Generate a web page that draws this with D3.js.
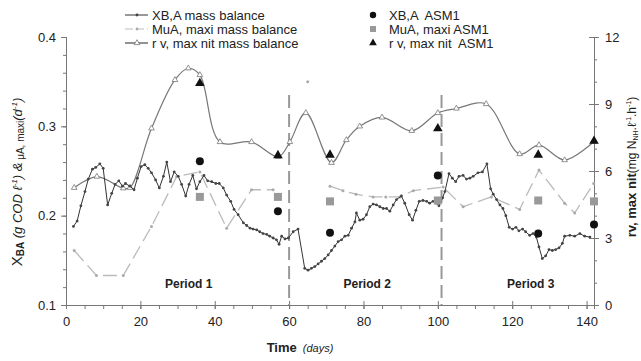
<!DOCTYPE html>
<html>
<head>
<meta charset="utf-8">
<script src="https://cdn.jsdelivr.net/npm/d3@7/dist/d3.min.js"></script>
<style>
  body { margin: 0; background: #fff; }
  text { font-family: "Liberation Sans", Arial, sans-serif; }
</style>
</head>
<body>
<div id="chart"></div>
<script>
// XB,A mass balance (g COD/l), left axis
var xbaDays = [2.0, 3.0, 4.0, 5.1, 6.0, 7.1, 8.0, 9.1, 10.0, 11.2, 12.3, 13.2, 14.2, 15.2, 16.0, 17.2, 18.3, 19.2, 20.2, 21.2,
    22.1, 23.0, 24.1, 25.1, 26.2, 27.1, 28.1, 29.1, 30.2, 31.1, 32.2, 33.1, 34.1, 35.1, 36.0, 37.1, 38.1, 39.2, 40.3, 41.2,
    42.3, 43.2, 44.3, 45.2, 46.3, 47.7, 48.6, 49.5, 50.3, 51.3, 52.1, 53.0, 54.0, 54.8, 55.7, 56.6, 57.3, 58.0, 58.9, 59.8,
    61.1, 62.4, 64.2, 65.1, 66.0, 66.9, 67.8, 68.7, 69.6, 70.5, 71.4, 72.3, 73.2, 74.1, 75.0, 75.9, 76.8, 77.7, 78.1, 79.0,
    79.9, 80.8, 81.7, 82.6, 83.5, 84.4, 85.3, 86.2, 87.1, 88.0, 88.9, 90.2, 91.1, 92.3, 93.2, 94.1, 95.0, 96.0, 97.0, 97.8,
    98.7, 99.6, 100.3, 101.3, 101.9, 103.0, 103.9, 104.8, 105.7, 106.8, 107.7, 108.6, 109.5, 110.8, 112.0, 113.2, 114.2, 114.9, 115.8, 116.7,
    117.5, 118.3, 119.2, 120.1, 121.0, 121.8, 122.8, 123.6, 124.7, 125.6, 126.5, 127.2, 128.1, 129.0, 129.9, 130.8, 131.7, 132.6, 133.5, 134.1,
    135.5, 136.8, 138.2, 139.5, 140.9];
var xbaValues = [0.188, 0.194, 0.211, 0.227, 0.241, 0.252, 0.254, 0.258, 0.253, 0.212, 0.225, 0.235, 0.239, 0.233, 0.236, 0.233, 0.229, 0.242, 0.255, 0.257,
    0.253, 0.248, 0.240, 0.231, 0.244, 0.260, 0.238, 0.249, 0.244, 0.235, 0.222, 0.235, 0.245, 0.230, 0.238, 0.245, 0.239, 0.238, 0.236, 0.236,
    0.231, 0.223, 0.216, 0.207, 0.201, 0.192, 0.189, 0.186, 0.185, 0.184, 0.182, 0.180, 0.179, 0.177, 0.175, 0.173, 0.168, 0.177, 0.174, 0.175,
    0.182, 0.185, 0.141, 0.139, 0.141, 0.143, 0.146, 0.149, 0.152, 0.156, 0.161, 0.166, 0.171, 0.173, 0.177, 0.178, 0.186, 0.193, 0.203, 0.195,
    0.196, 0.201, 0.210, 0.213, 0.212, 0.210, 0.208, 0.208, 0.205, 0.212, 0.218, 0.222, 0.214, 0.201, 0.195, 0.206, 0.216, 0.217, 0.216, 0.214,
    0.216, 0.214, 0.211, 0.220, 0.227, 0.247, 0.242, 0.238, 0.244, 0.245, 0.241, 0.242, 0.244, 0.248, 0.249, 0.258, 0.230, 0.224, 0.218, 0.212,
    0.208, 0.200, 0.187, 0.185, 0.187, 0.183, 0.185, 0.182, 0.178, 0.180, 0.176, 0.165, 0.152, 0.155, 0.162, 0.161, 0.162, 0.164, 0.169, 0.177,
    0.178, 0.177, 0.180, 0.177, 0.176];

// MuA, maxi mass balance (1/d), left axis; null = gap in the line
var muDays = [2.2, 8.2, 15.4, 23.0, 29.8, 36.0, 43.2, 49.9, 55.7, 60.0, 65.0, 68.0, 71.0, 74.5, 78.0, 82.6, 86.0, 89.8, 93.4, 101.4,
    106.8, 114.4, 122.0, 127.2, 134.1, 136.8, 141.9];
var muValues = [0.161, 0.133, 0.133, 0.188, 0.244, 0.249, 0.186, 0.229, 0.229, null, 0.350, null, 0.233, 0.228, 0.224, 0.221, 0.221, 0.221, 0.228, 0.232,
    0.210, 0.221, 0.207, 0.251, 0.214, 0.203, 0.236];

// r v, max nit mass balance (mg N/l/h), right axis
var rvDays = [2.2, 8.3, 15.4, 17.2, 23.0, 29.3, 32.9, 36.0, 41.4, 49.9, 57.1, 60.2, 64.5, 71.4, 75.4, 79.0, 85.0, 93.0, 100.0, 105.0,
    113.0, 122.0, 127.2, 134.1, 141.9];
var rvValues = [5.25, 5.75, 5.23, 5.25, 7.91, 10.08, 10.6, 10.3, 7.3, 7.3, 6.64, 7.3, 8.6, 6.37, 7.39, 8.0, 8.4, 7.8, 8.6, 8.8,
    9.0, 6.76, 7.16, 6.49, 7.31];

// ASM1 results
var asmDays = [36, 57, 71, 100, 127, 142];
var xbaAsm = [0.261, 0.205, 0.181, 0.245, 0.180, 0.190];
var muAsm = [0.221, 0.221, 0.216, 0.217, 0.217, 0.216];
var rvAsm = [9.93, 6.7, 6.72, 7.9, 6.72, 7.34];

var periodBreaks = [60, 101];
var periodLabels = ['Period 1', 'Period 2', 'Period 3'];
var periodCenters = [33, 81, 125];

var xTicks = [0, 20, 40, 60, 80, 100, 120, 140];
var leftTicks = [0.1, 0.2, 0.3, 0.4];
var rightTicks = [0, 3, 6, 9, 12];

var width = 641, height = 361;
var plotLeft = 66, plotRight = 594, plotTop = 37, plotBottom = 305;

var svg = d3.select('#chart').append('svg')
    .attr('width', width)
    .attr('height', height);

var x = d3.scaleLinear().domain([0, 142]).range([plotLeft, plotRight]);
var yL = d3.scaleLinear().domain([0.1, 0.4]).range([plotBottom, plotTop]);
var yR = d3.scaleLinear().domain([0, 12]).range([plotBottom, plotTop]);

var axisColor = '#777';

// axes
var gx = svg.append('g').attr('transform', 'translate(0,' + plotBottom + ')');
gx.call(d3.axisBottom(x).tickValues(d3.range(0, 141, 5)).tickSize(4).tickFormat(''));
gx.append('g').call(d3.axisBottom(x).tickValues(xTicks).tickSize(4).tickFormat(''))
    .selectAll('.tick line').attr('y1', -4);
gx.append('g').call(d3.axisBottom(x).tickValues(xTicks).tickSize(0).tickPadding(12))
    .call(function(g) { g.select('.domain').remove(); });

var gl = svg.append('g').attr('transform', 'translate(' + plotLeft + ',0)');
gl.call(d3.axisLeft(yL).tickValues(d3.range(0.1, 0.401, 0.02)).tickSize(3).tickFormat(''));
gl.append('g').call(d3.axisLeft(yL).tickValues(leftTicks).tickSize(5).tickPadding(5).tickFormat(d3.format('.1f')));

var gr = svg.append('g').attr('transform', 'translate(' + plotRight + ',0)');
gr.call(d3.axisRight(yR).tickValues(d3.range(0, 12.1, 1)).tickSize(3).tickFormat(''));
gr.append('g').call(d3.axisRight(yR).tickValues(rightTicks).tickSize(5).tickPadding(6))
    .selectAll('.tick line').attr('x1', -5);

svg.selectAll('.domain').attr('stroke', axisColor);
svg.selectAll('.tick line').attr('stroke', axisColor);
svg.selectAll('.tick text').attr('font-size', 13).attr('fill', '#222')
    .style('font-family', '"Liberation Sans", Arial, sans-serif');

// period separators
svg.selectAll('line.period')
    .data(periodBreaks)
    .enter()
    .append('line')
    .attr('class', 'period')
    .attr('x1', function(d) { return x(d); })
    .attr('x2', function(d) { return x(d); })
    .attr('y1', 95)
    .attr('y2', plotBottom)
    .attr('stroke', '#999')
    .attr('stroke-width', 2)
    .attr('stroke-dasharray', '13,6');

svg.selectAll('text.period')
    .data(periodLabels)
    .enter()
    .append('text')
    .attr('x', function(d, i) { return x(periodCenters[i]); })
    .attr('y', 288)
    .attr('text-anchor', 'middle')
    .attr('font-size', 12)
    .attr('font-weight', 'bold')
    .attr('fill', '#222')
    .text(function(d) { return d; });

// series
var xba = xbaDays.map(function(d, i) { return { d: d, v: xbaValues[i] }; });
var mu = muDays.map(function(d, i) { return { d: d, v: muValues[i] }; });
var rv = rvDays.map(function(d, i) { return { d: d, v: rvValues[i] }; });

var muLine = d3.line()
    .defined(function(p) { return p.v != null; })
    .x(function(p) { return x(p.d); })
    .y(function(p) { return yL(p.v); });

svg.append('path')
    .attr('d', muLine(mu))
    .attr('fill', 'none')
    .attr('stroke', '#bbb')
    .attr('stroke-width', 1.3)
    .attr('stroke-dasharray', '14,6');

svg.selectAll('circle.mu')
    .data(mu.filter(function(p) { return p.v != null; }))
    .enter()
    .append('circle')
    .attr('class', 'mu')
    .attr('cx', function(p) { return x(p.d); })
    .attr('cy', function(p) { return yL(p.v); })
    .attr('r', 1.5)
    .attr('fill', '#aaa');

var rvLine = d3.line()
    .curve(d3.curveCatmullRom)
    .x(function(p) { return x(p.d); })
    .y(function(p) { return yR(p.v); });

svg.append('path')
    .attr('d', rvLine(rv))
    .attr('fill', 'none')
    .attr('stroke', '#777')
    .attr('stroke-width', 1.2);

var triSmall = d3.symbol().type(d3.symbolTriangle).size(14);
svg.selectAll('path.rvpt')
    .data(rv)
    .enter()
    .append('path')
    .attr('class', 'rvpt')
    .attr('d', triSmall)
    .attr('transform', function(p) { return 'translate(' + x(p.d) + ',' + yR(p.v) + ')'; })
    .attr('fill', '#fff')
    .attr('stroke', '#777')
    .attr('stroke-width', 0.8);

var xbaLine = d3.line()
    .x(function(p) { return x(p.d); })
    .y(function(p) { return yL(p.v); });

svg.append('path')
    .attr('d', xbaLine(xba))
    .attr('fill', 'none')
    .attr('stroke', '#333')
    .attr('stroke-width', 1);

svg.selectAll('circle.xba')
    .data(xba)
    .enter()
    .append('circle')
    .attr('class', 'xba')
    .attr('cx', function(p) { return x(p.d); })
    .attr('cy', function(p) { return yL(p.v); })
    .attr('r', 1.4)
    .attr('fill', '#444');

// ASM1 markers
svg.selectAll('circle.asm')
    .data(asmDays)
    .enter()
    .append('circle')
    .attr('cx', function(d) { return x(d); })
    .attr('cy', function(d, i) { return yL(xbaAsm[i]); })
    .attr('r', 4)
    .attr('fill', '#111');

svg.selectAll('rect.asm')
    .data(asmDays)
    .enter()
    .append('rect')
    .attr('x', function(d) { return x(d) - 4; })
    .attr('y', function(d, i) { return yL(muAsm[i]) - 4; })
    .attr('width', 8)
    .attr('height', 8)
    .attr('fill', '#999');

var triBig = d3.symbol().type(d3.symbolTriangle).size(40);
svg.selectAll('path.asm')
    .data(asmDays)
    .enter()
    .append('path')
    .attr('d', triBig)
    .attr('transform', function(d, i) { return 'translate(' + x(d) + ',' + yR(rvAsm[i]) + ')'; })
    .attr('fill', '#111');

// legend
var legendLeft = ['XB,A mass balance', 'MuA, maxi mass balance', 'r v, max nit mass balance'];
var legendRight = ['XB,A  ASM1', 'MuA, maxi ASM1', 'r v, max nit  ASM1'];
var legendY = [15, 29, 43];

var lg = svg.append('g');
lg.append('line').attr('x1', 125).attr('x2', 148).attr('y1', legendY[0]).attr('y2', legendY[0]).attr('stroke', '#333');
lg.append('circle').attr('cx', 137).attr('cy', legendY[0]).attr('r', 1.4).attr('fill', '#444');
lg.append('line').attr('x1', 125).attr('x2', 148).attr('y1', legendY[1]).attr('y2', legendY[1])
    .attr('stroke', '#bbb').attr('stroke-dasharray', '8,3');
lg.append('circle').attr('cx', 137).attr('cy', legendY[1]).attr('r', 1.4).attr('fill', '#aaa');
lg.append('line').attr('x1', 125).attr('x2', 148).attr('y1', legendY[2]).attr('y2', legendY[2])
    .attr('stroke', '#777').attr('stroke-width', 1.6);
lg.append('path').attr('d', triSmall).attr('transform', 'translate(137,' + legendY[2] + ')')
    .attr('fill', '#fff').attr('stroke', '#777').attr('stroke-width', 0.8);
lg.selectAll('text.l')
    .data(legendLeft)
    .enter()
    .append('text')
    .attr('x', 152)
    .attr('y', function(d, i) { return legendY[i] + 4.5; })
    .attr('font-size', 13)
    .attr('fill', '#222')
    .text(function(d) { return d; });

lg.append('circle').attr('cx', 373).attr('cy', legendY[0]).attr('r', 3.2).attr('fill', '#111');
lg.append('rect').attr('x', 370).attr('y', legendY[1] - 3).attr('width', 6).attr('height', 6).attr('fill', '#999');
lg.append('path').attr('d', d3.symbol().type(d3.symbolTriangle).size(26))
    .attr('transform', 'translate(373,' + legendY[2] + ')').attr('fill', '#111');
lg.selectAll('text.r')
    .data(legendRight)
    .enter()
    .append('text')
    .attr('x', 389)
    .attr('y', function(d, i) { return legendY[i] + 4.5; })
    .attr('font-size', 13)
    .attr('fill', '#222')
    .style('white-space', 'pre')
    .text(function(d) { return d; });

// axis titles
var xt = svg.append('text')
    .attr('x', 300)
    .attr('y', 352)
    .attr('text-anchor', 'middle')
    .attr('fill', '#222');
xt.append('tspan').attr('font-size', 13).attr('font-weight', 'bold').text('Time');
xt.append('tspan').attr('font-size', 11).attr('font-style', 'italic').attr('dx', 6).text('(days)');

var yt = svg.append('text')
    .attr('transform', 'translate(22,182) rotate(-90)')
    .attr('text-anchor', 'middle')
    .attr('fill', '#222');
yt.append('tspan').attr('font-size', 15).text('X');
yt.append('tspan').attr('font-size', 10).attr('font-weight', 'bold').attr('dy', 2).text('BA');
yt.append('tspan').attr('font-size', 13).attr('font-style', 'italic').attr('dy', -2).text(' (g COD \u2113');
yt.append('tspan').attr('font-size', 8).attr('font-style', 'italic').attr('dy', -5).text('-1');
yt.append('tspan').attr('font-size', 13).attr('font-style', 'italic').attr('dy', 5).text(')  &');
yt.append('tspan').attr('font-size', 10).attr('dy', 2).text(' \u03bcA, maxi');
yt.append('tspan').attr('font-size', 13).attr('font-style', 'italic').attr('dy', -2).text('(d');
yt.append('tspan').attr('font-size', 8).attr('font-style', 'italic').attr('dy', -5).text('-1');
yt.append('tspan').attr('font-size', 13).attr('font-style', 'italic').attr('dy', 5).text(')');

var rt = svg.append('text')
    .attr('transform', 'translate(636,167) rotate(-90)')
    .attr('text-anchor', 'middle')
    .attr('fill', '#222');
rt.append('tspan').attr('font-size', 13).attr('font-weight', 'bold').text('rv, max nit');
rt.append('tspan').attr('font-size', 12).text('(mg N');
rt.append('tspan').attr('font-size', 7).attr('dy', 2).text('NH');
rt.append('tspan').attr('font-size', 12).attr('dy', -2).text('.\u2113');
rt.append('tspan').attr('font-size', 7).attr('dy', -5).text('-1');
rt.append('tspan').attr('font-size', 12).attr('dy', 5).text('.h');
rt.append('tspan').attr('font-size', 7).attr('dy', -5).text('-1');
rt.append('tspan').attr('font-size', 12).attr('dy', 5).text(')');
</script>
</body>
</html>
